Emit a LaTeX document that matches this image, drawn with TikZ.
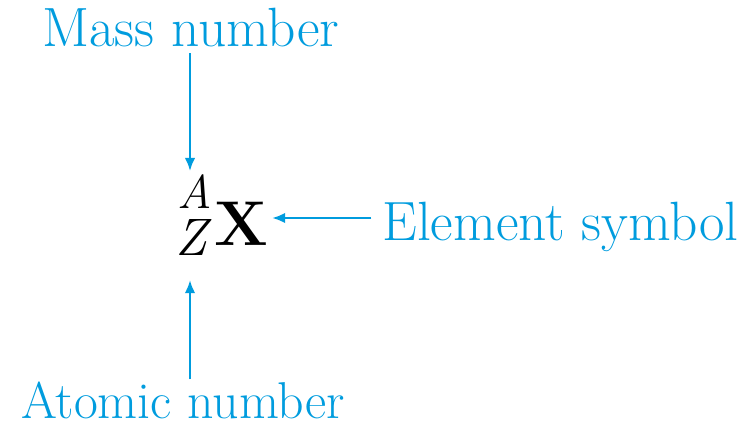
\documentclass[tikz,border=0pt]{standalone}
\usetikzlibrary{arrows.meta, positioning, calc}
\definecolor{nucblue}{RGB}{0,156,222}
\tikzset{
  lbl/.style={nucblue, inner sep=0pt, font=\fontsize{31.5}{36}\selectfont},
  arr/.style={nucblue, line width=1.4pt, -{Latex[length=7.5pt, width=6pt]}},
  sym/.style={black, inner sep=0pt, anchor=base west},
}

\begin{document}
\begin{tikzpicture}[x=0.02cm, y=-0.02cm]
    \useasboundingbox (0,0) rectangle (746,429);

    % labels
    \node[lbl, anchor=base] (mass) at (191,47) {Mass number};
    \node[lbl, anchor=base, font=\fontsize{29.5}{34}\selectfont] (atomic) at (183,418) {Atomic number};
    \node[lbl, anchor=base west] (element) at (382,240) {Element symbol};

    % nuclide symbol
    \node[sym, font=\fontsize{27}{30}\selectfont\itshape] (A) at (177,208) {A};
    \node[sym, font=\fontsize{30}{32}\selectfont\itshape] (Z) at (175,255) {Z};
    \node[sym, font=\fontsize{36}{40}\selectfont\bfseries] (X) at (214,245) {X};

    % arrows
    \draw[arr, shorten <=3pt, shorten >=1.5pt] (mass.south -| 190,0) -- (190,0 |- A.north);
    \draw[arr, shorten <=1pt, shorten >=14pt] (190,0 |- atomic.north) -- (190,0 |- Z.south);
    \draw[arr] ([xshift=-6pt]element.west |- 0,218) -- ([xshift=2pt]X.east |- 0,218);
\end{tikzpicture}
\end{document}
